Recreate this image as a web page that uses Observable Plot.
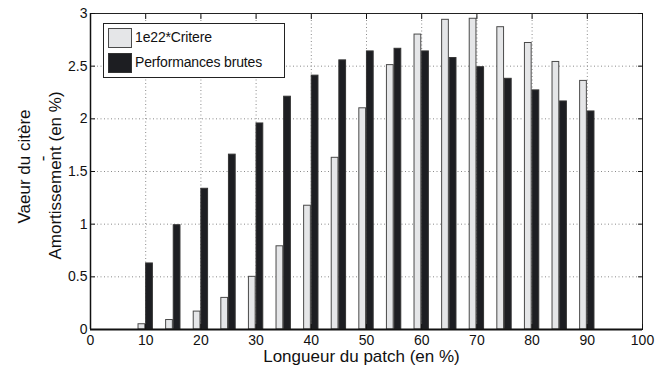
<!DOCTYPE html>
<html>
<head>
<meta charset="utf-8">
<script src="https://cdn.jsdelivr.net/npm/d3@7"></script>
<script src="https://cdn.jsdelivr.net/npm/@observablehq/plot@0.6"></script>
<style>
  html, body { margin: 0; padding: 0; background: #fff; }
  #wrap { position: relative; width: 658px; height: 367px; font-family: "Liberation Sans", Arial, sans-serif; }
  #legend { position: absolute; left: 103px; top: 23px; width: 182px; height: 55px; border: 1px solid #222; background: #fff; box-sizing: border-box; }
  .sw { position: absolute; left: 4px; width: 24px; height: 20px; box-sizing: border-box; }
  .lt { position: absolute; left: 31px; font-size: 14px; letter-spacing: -0.15px; color: #111; white-space: nowrap; }
</style>
</head>
<body>
<div id="wrap"></div>
<script>
const longueurs = [10, 15, 20, 25, 30, 35, 40, 45, 50, 55, 60, 65, 70, 75, 80, 85, 90];
const critere = [0.05, 0.09, 0.17, 0.30, 0.50, 0.79, 1.175, 1.63, 2.10, 2.51, 2.80, 2.94, 2.95, 2.87, 2.72, 2.54, 2.36];
const performances = [0.627, 0.99, 1.336, 1.66, 1.956, 2.21, 2.41, 2.555, 2.64, 2.665, 2.64, 2.577, 2.49, 2.38, 2.27, 2.165, 2.07];
const seriesNames = ["1e22*Critere", "Performances brutes"];
const xTicks = [0, 10, 20, 30, 40, 50, 60, 70, 80, 90, 100];
const yTicks = [0, 0.5, 1, 1.5, 2, 2.5, 3];
const xLabel = "Longueur du patch (en %)";
const yLabel1 = "Vaeur du citère";
const yLabel2 = "Amortissement (en %)";

const dataCritere = longueurs.map((x, i) => ({x, v: critere[i]}));
const dataPerf = longueurs.map((x, i) => ({x, v: performances[i]}));

const innerX = xTicks.filter(t => t > 0 && t < 100);
const innerY = yTicks.filter(t => t > 0 && t < 3);

const chart = Plot.plot({
  width: 658,
  height: 367,
  marginLeft: 90,
  marginRight: 16,
  marginTop: 13,
  marginBottom: 38,
  style: {fontFamily: "Liberation Sans, Arial, sans-serif", fontSize: "14px", color: "#111", background: "#fff"},
  x: {domain: [0, 100]},
  y: {domain: [0, 3]},
  marks: [
    Plot.gridX(innerX, {stroke: "#8a8a8a", strokeOpacity: 1, strokeDasharray: "1,2.5"}),
    Plot.gridY(innerY, {stroke: "#8a8a8a", strokeOpacity: 1, strokeDasharray: "1,2.5"}),
    Plot.rectY(dataCritere, {x1: d => d.x - 1.3, x2: d => d.x - 0.08, y: "v", fill: "#e5e6e8", stroke: "#4a4a4a", strokeWidth: 1}),
    Plot.rectY(dataPerf, {x1: d => d.x + 0.08, x2: d => d.x + 1.3, y: "v", fill: "#1d1e22", stroke: "#333", strokeWidth: 1}),
    Plot.frame({stroke: "#222", strokeWidth: 1}),
    Plot.ruleY([0], {stroke: "#111", strokeWidth: 2}),
    Plot.ruleX([0], {stroke: "#111", strokeWidth: 1.5}),
    Plot.axisX(xTicks, {anchor: "bottom", tickSize: -5, tickPadding: 11, label: null, fontSize: 14, stroke: "#111"}),
    Plot.axisX(xTicks, {anchor: "top", tickSize: -5, tickFormat: () => "", label: null, stroke: "#111"}),
    Plot.axisY(yTicks, {anchor: "left", tickSize: -5, tickPadding: 8, tickFormat: d => String(d), label: null, fontSize: 14, stroke: "#111"}),
    Plot.axisY(yTicks, {anchor: "right", tickSize: -5, tickFormat: () => "", label: null, stroke: "#111"}),
    Plot.text([xLabel], {frameAnchor: "bottom", textAnchor: "middle", lineAnchor: "middle", dx: -5, dy: 27, fontSize: 17, fill: "#111"}),
    Plot.text([yLabel1], {frameAnchor: "left", textAnchor: "middle", lineAnchor: "middle", rotate: -90, dx: -66, dy: -5, fontSize: 17, fill: "#111"}),
    Plot.text([yLabel2], {frameAnchor: "left", textAnchor: "middle", lineAnchor: "middle", rotate: -90, dx: -35, dy: 4, fontSize: 17, fill: "#111"}),
    Plot.text(["-"], {frameAnchor: "left", textAnchor: "middle", lineAnchor: "middle", rotate: -90, dx: -48, dy: -13, fontSize: 17, fill: "#111"})
  ]
});

const wrap = document.getElementById("wrap");
wrap.appendChild(chart);

const legend = document.createElement("div");
legend.id = "legend";
const fills = ["#e5e6e8", "#1d1e22"];
const strokes = ["#4a4a4a", "#333"];
seriesNames.forEach((name, i) => {
  const sw = document.createElement("div");
  sw.className = "sw";
  sw.style.top = (4 + i * 25) + "px";
  sw.style.background = fills[i];
  sw.style.border = "1px solid " + strokes[i];
  legend.appendChild(sw);
  const t = document.createElement("div");
  t.className = "lt";
  t.style.top = (5 + i * 25) + "px";
  t.textContent = name;
  legend.appendChild(t);
});
wrap.appendChild(legend);
</script>
</body>
</html>
